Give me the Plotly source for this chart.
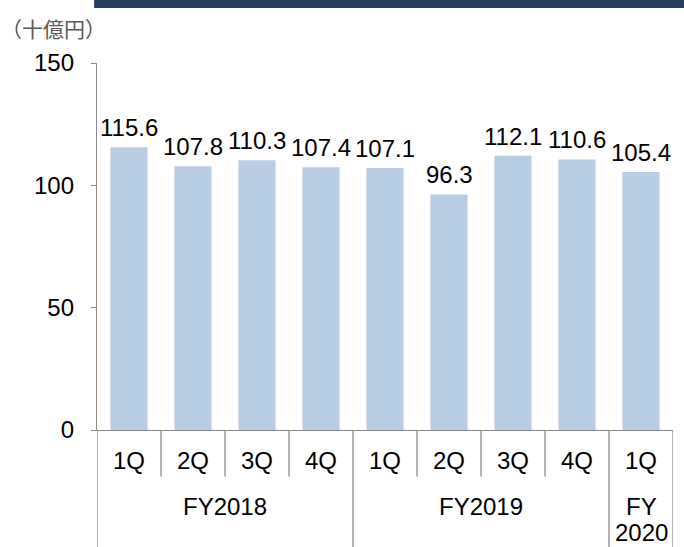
import plotly.graph_objects as go

quarters = ["1Q", "2Q", "3Q", "4Q", "1Q", "2Q", "3Q", "4Q", "1Q"]
fiscal_years = ["FY2018", "FY2019", "FY<br>2020"]
fy_spans = [(0, 3), (4, 7), (8, 8)]
values = [115.6, 107.8, 110.3, 107.4, 107.1, 96.3, 112.1, 110.6, 105.4]
y_ticks = [0, 50, 100, 150]
unit_label = "（十億円）"

FONT = "Liberation Sans, Arial, sans-serif"
FS = 24
xs = list(range(len(values)))

fig = go.Figure()
fig.add_trace(go.Bar(
    x=xs, y=values,
    marker=dict(color="#B9CDE5", line=dict(width=0)),
    width=0.58,
    hoverinfo="skip",
))

shapes = []
line_col = "#898989"
for i in range(len(values) - 1):
    boundary = i + 0.5
    is_fy = any(boundary == e + 0.5 for s, e in fy_spans[:-1])
    shapes.append(dict(type="line", xref="x", yref="paper",
                       x0=boundary, x1=boundary, y0=0,
                       y1=-0.322 if is_fy else -0.127,
                       line=dict(color=line_col, width=1.3)))
for b in (-0.5, len(values) - 0.5):
    shapes.append(dict(type="line", xref="x", yref="paper",
                       x0=b, x1=b, y0=0, y1=-0.322,
                       line=dict(color=line_col, width=1.3)))
shapes.append(dict(type="rect", xref="paper", yref="paper",
                   x0=-0.005, x1=1.03, y0=1.15, y1=1.18,
                   fillcolor="#243F60", line=dict(width=0)))

annotations = []
for x, v in zip(xs, values):
    annotations.append(dict(x=x, y=v, xref="x", yref="y",
                            text=f"{v:.1f}", showarrow=False,
                            font=dict(size=FS, color="#000000", family=FONT),
                            xanchor="center", yanchor="bottom", yshift=4))
for i, q in enumerate(quarters):
    annotations.append(dict(x=i, y=-0.082, xref="x", yref="paper",
                            text=q, showarrow=False,
                            font=dict(size=FS, color="#000000", family=FONT),
                            xanchor="center", yanchor="middle"))
for fy, (s, e) in zip(fiscal_years, fy_spans):
    for k, line in enumerate(fy.split("<br>")):
        annotations.append(dict(x=(s + e) / 2, y=-0.209 - 0.071 * k,
                                xref="x", yref="paper",
                                text=line, showarrow=False,
                                font=dict(size=FS, color="#000000", family=FONT),
                                xanchor="center", yanchor="middle"))
annotations.append(dict(x=-0.17, y=1.095, xref="paper", yref="paper",
                        text=unit_label, showarrow=False,
                        font=dict(size=21, color="#595959",
                                  family="Noto Sans CJK JP, sans-serif"),
                        xanchor="left", yanchor="middle"))

fig.update_layout(
    width=684, height=547,
    margin=dict(l=97, r=11, t=63, b=117, autoexpand=False),
    plot_bgcolor="white", paper_bgcolor="white",
    showlegend=False,
    hovermode=False,
    font=dict(family=FONT, size=FS, color="#000000"),
    shapes=shapes,
    annotations=annotations,
    xaxis=dict(range=[-0.5, len(values) - 0.5], showticklabels=False,
               ticks="", showgrid=False, zeroline=False,
               showline=True, linecolor=line_col, linewidth=1.3),
    yaxis=dict(range=[0, 150], tickvals=y_ticks, showgrid=False,
               zeroline=False, showline=True, linecolor=line_col, linewidth=1.3,
               ticks="outside", ticklen=5, tickcolor=line_col, tickwidth=1.3,
               ticklabelstandoff=12,
               tickfont=dict(size=FS, color="#000000", family=FONT)),
)

fig.write_html("out.html", config={"displayModeBar": False},
               post_script="document.body.style.margin='0px';")
